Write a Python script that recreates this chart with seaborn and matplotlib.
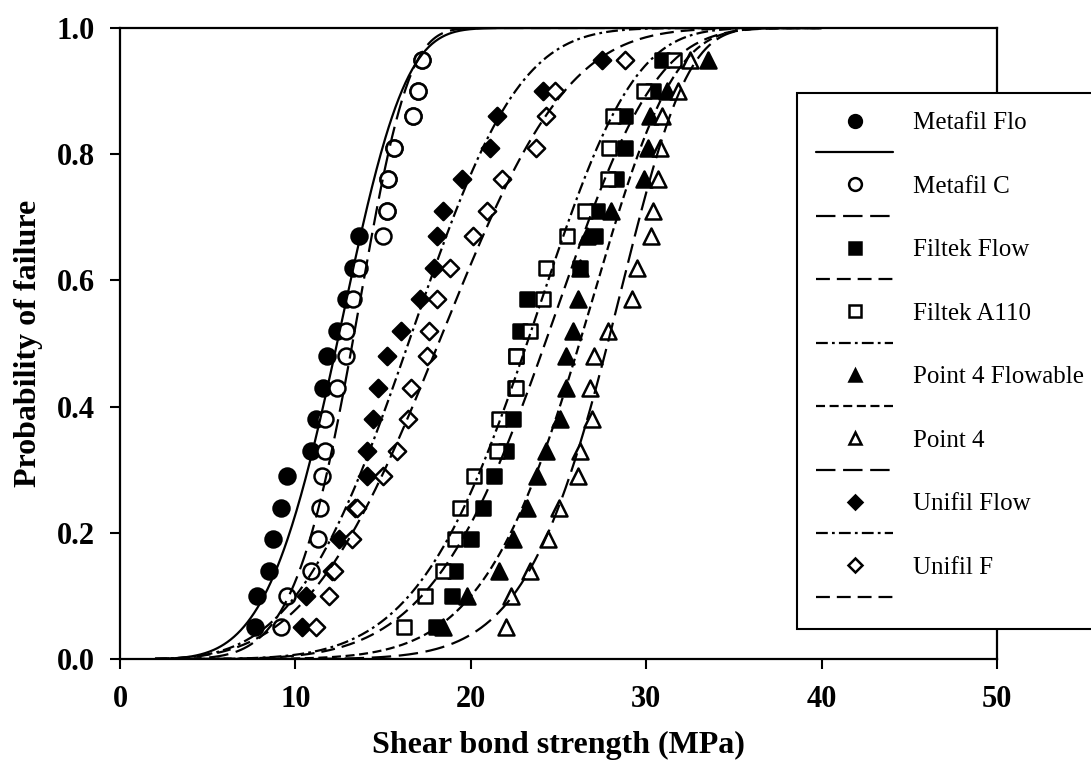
import numpy as np
import pandas as pd
import seaborn as sns
import matplotlib.pyplot as plt
from matplotlib.lines import Line2D

# plotting positions (rank / (n + 1), n = 20)
prob = [0.05, 0.10, 0.14, 0.19, 0.24, 0.29, 0.33, 0.38, 0.43, 0.48,
        0.52, 0.57, 0.62, 0.67, 0.71, 0.76, 0.81, 0.86, 0.90, 0.95]

# shear bond strength (MPa) for each specimen, sorted
metafil_flo = [7.7, 7.8, 8.5, 8.7, 9.2, 9.5, 10.9, 11.2, 11.6, 11.8,
               12.4, 12.9, 13.3, 13.6, 15.2, 15.3, 15.6, 16.7, 17.0, 17.2]
metafil_c = [9.2, 9.5, 10.9, 11.3, 11.4, 11.5, 11.7, 11.7, 12.4, 12.9,
             12.9, 13.3, 13.6, 15.0, 15.2, 15.3, 15.6, 16.7, 17.0, 17.2]
filtek_flow = [18.0, 18.9, 19.1, 20.0, 20.7, 21.3, 22.0, 22.4, 22.5, 22.6,
               22.8, 23.2, 26.2, 27.1, 27.2, 28.3, 28.8, 28.8, 30.4, 30.9]
filtek_a110 = [16.2, 17.4, 18.4, 19.1, 19.4, 20.2, 21.5, 21.6, 22.6, 22.6,
               23.4, 24.1, 24.3, 25.5, 26.5, 27.8, 27.9, 28.1, 29.9, 31.6]
point4_flowable = [18.4, 19.8, 21.6, 22.4, 23.2, 23.8, 24.3, 25.1, 25.4, 25.4,
                   25.8, 26.1, 26.2, 26.6, 28.0, 29.9, 30.1, 30.2, 31.2, 33.5]
point4 = [22.0, 22.3, 23.4, 24.4, 25.0, 26.1, 26.2, 26.9, 26.8, 27.0,
          27.8, 29.2, 29.5, 30.3, 30.4, 30.7, 30.8, 30.9, 31.8, 32.5]
unifil_flow = [10.4, 10.6, 12.1, 12.5, 13.4, 14.1, 14.1, 14.4, 14.7, 15.2,
               16.0, 17.1, 17.9, 18.1, 18.4, 19.5, 21.1, 21.5, 24.1, 27.5]
unifil_f = [11.2, 11.9, 12.2, 13.2, 13.5, 15.0, 15.8, 16.4, 16.6, 17.5,
            17.6, 18.1, 18.8, 20.1, 20.9, 21.8, 23.7, 24.3, 24.8, 28.8]

names = ["Metafil Flo", "Metafil C", "Filtek Flow", "Filtek A110",
         "Point 4 Flowable", "Point 4", "Unifil Flow", "Unifil F"]
strengths = [metafil_flo, metafil_c, filtek_flow, filtek_a110,
             point4_flowable, point4, unifil_flow, unifil_f]

# Weibull fit: modulus m and characteristic strength s0
weibull_m = [4.6, 5.9, 5.5, 5.5, 7.0, 8.7, 3.8, 3.6]
weibull_s0 = [13.4, 14.1, 25.9, 24.8, 27.6, 29.0, 18.1, 20.1]

markers = ["o", "o", "s", "s", "^", "^", "D", "D"]
filled = [True, False, True, False, True, False, True, False]
msize = [11.5, 11.5, 10, 10, 11.5, 11.5, 8.8, 8.8]

long_dash = (0, (14, 5.5))
mid_dash = (0, (10, 5))
short_dash = (0, (6.5, 3.3))
dash_dot = (0, (8.5, 3, 2, 3))
linestyles = ["-", long_dash, mid_dash, dash_dot, short_dash, long_dash, dash_dot, mid_dash]

sns.set_style("ticks")
plt.rcParams["font.family"] = ["Liberation Serif", "DejaVu Serif"]
plt.rcParams["lines.scale_dashes"] = False
for key in ["text.color", "axes.labelcolor", "xtick.color", "ytick.color", "axes.edgecolor"]:
    plt.rcParams[key] = "black"

fig = plt.figure(figsize=(10.91, 7.68), dpi=100)
ax = fig.add_axes([120 / 1091, 109 / 768, 877 / 1091, 631 / 768])

# specimens
for i, name in enumerate(names):
    face = "black" if filled[i] else "white"
    sns.scatterplot(x=strengths[i], y=prob, marker=markers[i], s=msize[i] ** 2,
                    color=face, edgecolor="black", linewidth=1.8,
                    ax=ax, zorder=2, legend=False)

# fitted Weibull curves
xs = np.linspace(2, 40, 600)
for i, name in enumerate(names):
    fit = pd.DataFrame({"x": xs,
                        "p": 1 - np.exp(-(xs / weibull_s0[i]) ** weibull_m[i])})
    sns.lineplot(data=fit, x="x", y="p", color="black", lw=1.6,
                 linestyle=linestyles[i], ax=ax, zorder=3)

ax.set_xlim(0, 50)
ax.set_ylim(0, 1.0)
ax.set_xticks([0, 10, 20, 30, 40, 50])
ax.set_yticks([0.0, 0.2, 0.4, 0.6, 0.8, 1.0])
ax.set_yticklabels(["0.0", "0.2", "0.4", "0.6", "0.8", "1.0"])
ax.tick_params(direction="out", length=7, width=1.5, labelsize=22)
ax.tick_params(axis="x", pad=12)
ax.tick_params(axis="y", pad=11)
for lab in ax.get_xticklabels() + ax.get_yticklabels():
    lab.set_fontweight("bold")
for sp in ax.spines.values():
    sp.set_linewidth(1.6)

ax.set_xlabel("Shear bond strength (MPa)", fontsize=23, fontweight="bold", labelpad=12)
ax.set_ylabel("Probability of failure", fontsize=23, fontweight="bold", labelpad=10)

# legend: marker row, then line row for each material
handles, labels = [], []
for i, name in enumerate(names):
    face = "black" if filled[i] else "white"
    handles.append(Line2D([], [], marker=markers[i], ls="none", ms=msize[i] * 0.8,
                          mfc=face, mec="black", mew=1.8))
    labels.append(name)
    handles.append(Line2D([], [], color="black", lw=1.6, linestyle=linestyles[i]))
    labels.append("")

leg = fig.legend(handles, labels, loc="upper left",
                 bbox_to_anchor=(797 / 1091, 1 - 93 / 768),
                 bbox_transform=fig.transFigure, borderaxespad=0,
                 fontsize=18, frameon=True, fancybox=False, framealpha=1,
                 edgecolor="black", handlelength=3.1, handletextpad=0.8,
                 labelspacing=0.37, borderpad=0.75)
leg.get_frame().set_linewidth(1.5)

fig.savefig("out.png", dpi=100)
